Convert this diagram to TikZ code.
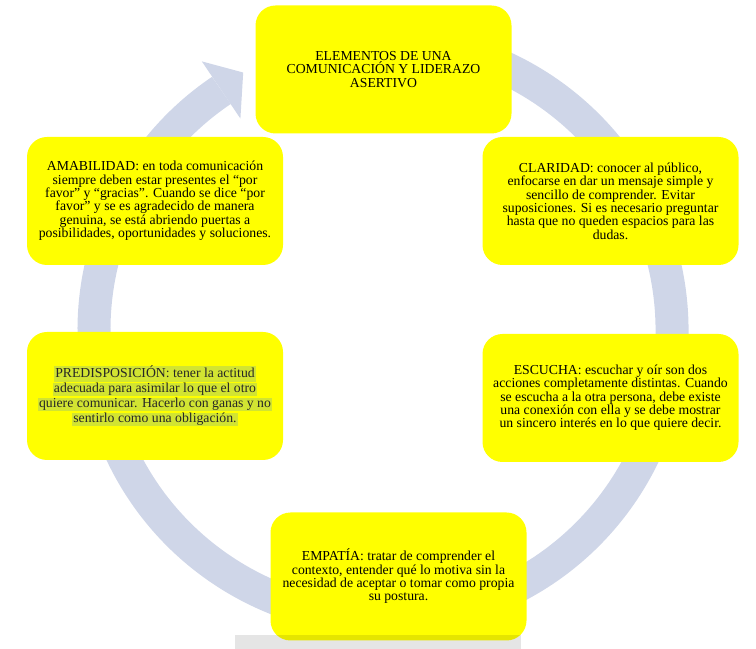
\documentclass[tikz,border=0pt]{standalone}
\usepackage{fontspec}
\setmainfont{Liberation Serif}
\usepackage{xcolor}
\usetikzlibrary{positioning, calc}
\definecolor{anillo}{RGB}{207,214,232}
\definecolor{amarillo}{RGB}{255,255,0}
\definecolor{resalte}{RGB}{210,228,50}
\setlength{\fboxsep}{0pt}
\newcommand{\resaltar}[1]{\colorbox{resalte}{\rule[-3pt]{0pt}{10pt}\hspace{1pt}#1\hspace{1pt}}}
\tikzset{caja/.style={rectangle, rounded corners=15pt, fill=amarillo, inner sep=0pt,
    minimum width=192pt, minimum height=96pt, align=center, font=\fontsize{10.3}{10}\selectfont}}

\begin{document}
\begin{tikzpicture}[x=0.75pt, y=0.75pt]
        \useasboundingbox (0,0) rectangle (756,649);
        \coordinate (c) at (383,319);
        \draw[anillo, line width=24.75pt] ($(c)+(100:289)$) arc[start angle=100, end angle=-236, radius=289];
        \fill[anillo] ($(c)+(124:324)$) -- ($(c)+(118.5:293)$) -- ($(c)+(124:255)$) -- cycle;
        \node[caja] (tit) at (383.5,579.5) {ELEMENTOS DE UNA\\COMUNICACIÓN Y LIDERAZO\\ASERTIVO};
        \node[caja] (ama) at (155,448) {AMABILIDAD: en toda comunicación\\siempre deben estar presentes el “por\\favor” y “gracias”. Cuando se dice “por\\favor” y se es agradecido de manera\\genuina, se está abriendo puertas a\\posibilidades, oportunidades y soluciones.};
        \node[caja] (cla) at (610.5,448) {CLARIDAD: conocer al público,\\enfocarse en dar un mensaje simple y\\sencillo de comprender. Evitar\\suposiciones. Si es necesario preguntar\\hasta que no queden espacios para las\\dudas.};
        \node[caja, text=black!85] (pre) at (155,253) {\resaltar{PREDISPOSICIÓN: tener la actitud}\\\resaltar{adecuada para asimilar lo que el otro}\\\resaltar{quiere comunicar. Hacerlo con ganas y no}\\\resaltar{sentirlo como una obligación.}};
        \node[caja] (esc) at (610.5,251) {ESCUCHA: escuchar y oír son dos\\acciones completamente distintas. Cuando\\se escucha a la otra persona, debe existe\\una conexión con ella y se debe mostrar\\un sincero interés en lo que quiere decir.};
        \node[caja] (emp) at (398.5,72.5) {EMPATÍA: tratar de comprender el\\contexto, entender qué lo motiva sin la\\necesidad de aceptar o tomar como propia\\su postura.};
        \fill[black, opacity=0.1] (235,0) rectangle (521,14);
    \end{tikzpicture}
\end{document}
